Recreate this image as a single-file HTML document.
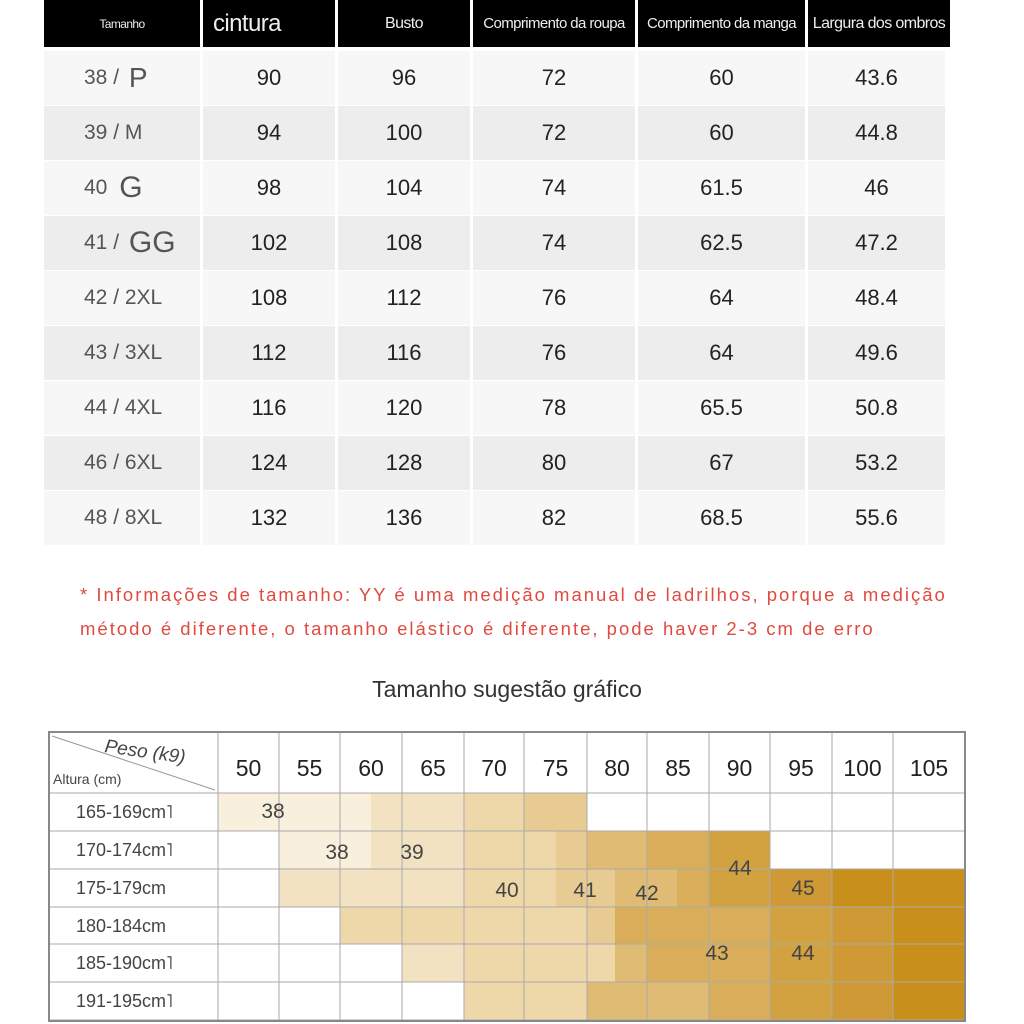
<!DOCTYPE html>
<html><head><meta charset="utf-8"><style>
body{margin:0;width:1024px;height:1024px;background:#fff;position:relative;overflow:hidden;font-family:"Liberation Sans",sans-serif}
.a{position:absolute}
.h{position:absolute;background:#000;color:#eee;display:flex;align-items:center;justify-content:center;top:0;height:47px;font-size:15px;white-space:nowrap;letter-spacing:-0.6px}
.c{position:absolute;display:flex;align-items:center;justify-content:center;font-size:22px;color:#222}
.r{position:absolute;left:80px;color:#e04a40;font-size:18.5px;letter-spacing:2px;white-space:nowrap}
</style></head><body>
<div class="h" style="left:44px;width:156px;font-size:12px">Tamanho</div>
<div class="h" style="left:203px;width:132px;font-size:24px;justify-content:flex-start;padding-left:10px;box-sizing:border-box">cintura</div>
<div class="h" style="left:338px;width:132px;font-size:16px">Busto</div>
<div class="h" style="left:473px;width:162px">Comprimento da roupa</div>
<div class="h" style="left:638px;width:167px">Comprimento da manga</div>
<div class="h" style="left:808px;width:142px;font-size:16px">Largura dos ombros</div>
<div id="t"></div>
<div class="r" style="top:584px">* Informações de tamanho: YY é uma medição manual de ladrilhos, porque a medição</div>
<div class="r" style="top:618px">método é diferente, o tamanho elástico é diferente, pode haver 2-3 cm de erro</div>
<div class="a" style="left:0;width:1014px;top:676px;text-align:center;font-size:23px;color:#333">Tamanho sugestão gráfico</div>
<svg class="a" style="left:0;top:0" width="1024" height="1024" id="g"></svg>
<script>
var rows=[["38 / <span style='font-size:28px;margin-left:4px'>P</span>",90,96,72,60,43.6],["39 / M",94,100,72,60,44.8],["40 <span style='font-size:30px;color:#555;margin-left:6px'>G</span>",98,104,74,61.5,46],["41 / <span style='font-size:30px;color:#555;margin-left:4px'>GG</span>",102,108,74,62.5,47.2],["42 / 2XL",108,112,76,64,48.4],["43 / 3XL",112,116,76,64,49.6],["44 / 4XL",116,120,78,65.5,50.8],["46 / 6XL",124,128,80,67,53.2],["48 / 8XL",132,136,82,68.5,55.6]];
var cx=[[44,156],[203,132],[338,132],[473,162],[638,167],[808,137]];
var h="";
rows.forEach(function(r,i){var y=51+i*55;var bg=i%2?"#ededed":"#f7f7f7";
r.forEach(function(v,j){h+='<div class="c" style="left:'+cx[j][0]+'px;width:'+cx[j][1]+'px;top:'+y+'px;height:54px;background:'+bg+(j==0?';color:#555;justify-content:flex-start;padding-left:40px;box-sizing:border-box;font-size:21px;white-space:pre':'')+'">'+v+'</div>';});});
document.getElementById("t").innerHTML=h;
var C={a:"#f8efdc",b:"#f2e2c2",c:"#eed8aa",d:"#e8cb93",e:"#e0bb73",f:"#d9ad59",g:"#d3a240",h:"#cf9a35",i:"#c8901a"};
var Y=[793,831,869,907,944,982,1020];
var seg=[[[218,371,"a"],[371,464,"b"],[464,524,"c"],[524,587,"d"]],
[[279,371,"a"],[371,464,"b"],[464,556,"c"],[556,587,"d"],[587,647,"e"],[647,709,"f"],[709,770,"g"]],
[[279,464,"b"],[464,556,"c"],[556,615,"d"],[615,677,"e"],[677,709,"f"],[709,770,"g"],[770,832,"h"],[832,965,"i"]],
[[340,587,"c"],[587,615,"d"],[615,770,"f"],[770,832,"g"],[832,893,"h"],[893,965,"i"]],
[[402,464,"b"],[464,615,"c"],[615,647,"e"],[647,770,"f"],[770,832,"g"],[832,893,"h"],[893,965,"i"]],
[[464,587,"c"],[587,709,"e"],[709,770,"f"],[770,832,"g"],[832,893,"h"],[893,965,"i"]]];
var s="";
seg.forEach(function(r,i){r.forEach(function(q){s+='<rect x="'+q[0]+'" y="'+Y[i]+'" width="'+(q[1]-q[0])+'" height="'+(Y[i+1]-Y[i])+'" fill="'+C[q[2]]+'"/>';});});
var X=[49,218,279,340,402,464,524,587,647,709,770,832,893,965];
X.forEach(function(x){s+='<line x1="'+x+'" y1="732" x2="'+x+'" y2="1021" stroke="#aaa" stroke-width="1"/>';});
[732].concat(Y).forEach(function(y){s+='<line x1="49" y1="'+y+'" x2="965" y2="'+y+'" stroke="#aaa" stroke-width="1"/>';});
s+='<rect x="49" y="732" width="916" height="289" fill="none" stroke="#888" stroke-width="2"/>';
s+='<line x1="52" y1="736" x2="215" y2="790" stroke="#999"/>';
var w=[50,55,60,65,70,75,80,85,90,95,100,105];
w.forEach(function(v,k){s+='<text x="'+((X[k+1]+X[k+2])/2)+'" y="776" font-size="23" fill="#222" text-anchor="middle" font-family="Liberation Sans Narrow,Liberation Sans,sans-serif">'+v+'</text>';});
s+='<text x="104" y="752" font-size="19" fill="#444" font-style="italic" transform="rotate(8 104 752)">Peso (k9)</text>';
s+='<text x="53" y="784" font-size="14" fill="#444">Altura (cm)</text>';
["165-169cm˥","170-174cm˥","175-179cm","180-184cm","185-190cm˥","191-195cm˥"].forEach(function(t,i){s+='<text x="76" y="'+(Y[i]+25)+'" font-size="18" fill="#444">'+t+'</text>';});
[[273,818,"38"],[337,859,"38"],[412,859,"39"],[507,897,"40"],[585,897,"41"],[647,900,"42"],[740,875,"44"],[803,895,"45"],[717,960,"43"],[803,960,"44"]].forEach(function(l){s+='<text x="'+l[0]+'" y="'+l[1]+'" font-size="21" fill="#444" text-anchor="middle">'+l[2]+'</text>';});
document.getElementById("g").innerHTML=s;
</script>
</body></html>
